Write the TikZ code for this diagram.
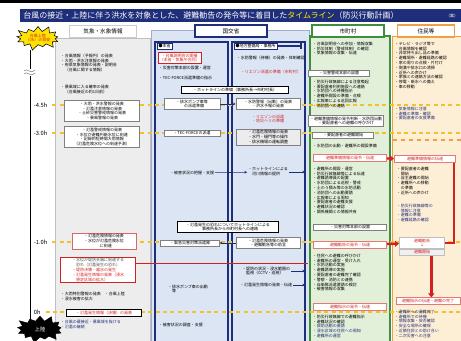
\documentclass[tikz,border=0pt]{standalone}
\usepackage{fontspec}
\setmainfont{Noto Sans CJK JP}
\usetikzlibrary{shapes.symbols,positioning,arrows.meta}

\definecolor{navy}{HTML}{1F2E7A}
\definecolor{bluebg}{HTML}{DCE5F4}
\definecolor{greenbg}{HTML}{E2EFD9}
\definecolor{greenln}{HTML}{3E8E3E}
\definecolor{orangebg}{HTML}{FDEFD6}
\definecolor{orangeln}{HTML}{F0A040}
\definecolor{graybg}{HTML}{EDEDED}
\definecolor{dashyel}{HTML}{F2C12E}
\definecolor{redln}{HTML}{D42020}

\tikzset{
  txt/.style={font=\fontsize{3}{3.6}\selectfont, inner sep=0.5pt, align=left},
  btxt/.style={txt, text=navy},
  rtxt/.style={txt, text=redln},
  tbox/.style={txt, draw=gray, fill=white, align=center, inner sep=1pt},
  rbox/.style={tbox, text=redln, draw=redln!60, line width=0.5pt},
  hdr/.style={draw, fill=white, line width=1pt, minimum width=54pt, minimum height=9pt, inner sep=0pt, font=\fontsize{4.2}{5}\selectfont},
  hour/.style={anchor=west, inner sep=0.5pt, font=\fontsize{4.3}{5}\selectfont},
  timeln/.style={dashyel, dash pattern=on 3pt off 2.5pt, line width=1pt},
  link/.style={navy, line width=0.4pt, -{Stealth[length=2pt,width=2pt]}},
  redbar/.style={redln, line width=1.8pt},
  redarr/.style={redbar, -{Triangle[length=3pt,width=4.5pt]}},
}

\begin{document}
\begin{tikzpicture}[x=0.75pt,y=-0.75pt]
    \useasboundingbox (0,0) rectangle (461,341);
    \clip (0,0) rectangle (461,341);

    % Title
    \fill[black] (0,0) rectangle (461,3);
    \fill[navy] (20,9) rectangle (461,22);
    \node[anchor=west, text=white, inner sep=0, font=\fontsize{6}{7}\selectfont] (title) at (23,15.5)
        {台風の接近・上陸に伴う洪水を対象とした、避難勧告の発令等に着目した\textcolor{yellow}{タイムライン}（防災行動計画）};
    \node[anchor=east, text=white, txt, align=center] (ver) at (459,15.5) {（案）};

    % Column backgrounds
    \draw[gray!50, fill=graybg] (55,38) rectangle (150,345);
    \draw[navy!40, fill=bluebg] (151,30) rectangle (309,345);
    \draw[navy, line width=1pt] (155,42) rectangle (228,345);
    \draw[navy, line width=1pt] (232,42) rectangle (305,345);
    \draw[greenln, line width=0.8pt, fill=greenbg] (310,36) rectangle (390,345);
    \draw[orangeln, line width=0.6pt, fill=orangebg] (392,36) rectangle (465,345);

    % Time axis
    \draw[line width=0.6pt] (30,50) -- (30,332);
    \fill[white] (24,69) rectangle (36,76);
    \draw[gray] (24,71) .. controls (27,67) and (30,75) .. (35,70);
    \draw[gray] (24,74) .. controls (27,70) and (30,78) .. (35,73);
    \foreach \y/\lab/\nm in {105/-4.5h/a, 133/-3.0h/b, 242/-1.0h/c, 312/0h/d} {
        \node[hour] (t\nm) at (33,\y) {\lab};
        \coordinate (e\nm) at (461,\y);
        \draw[timeln] (t\nm.east) ++(4,0) -- (e\nm);
    }
    \draw[orangeln, dashed, line width=0.8pt] (393,140) -- (461,140);

    % Headers
    \node[starburst, starburst points=13, starburst point height=5pt, fill=yellow!85!orange, draw=black,
          line width=0.4pt, minimum width=36pt, minimum height=20pt, inner sep=0pt, align=center,
          text=redln, font=\fontsize{3}{3.5}\selectfont] (sun) at (38,38) {台風上陸\\（0h）の目安};
    \node[hdr, draw=gray!40, line width=0.4pt, minimum width=50pt] (wx) at (103,31) {気象・水象情報};
    \node[hdr, draw=navy] (mlit) at (231,31) {国交省};
    \node[hdr, draw=greenln] (city) at (348,31) {市町村};
    \node[hdr, draw=orangeln, minimum width=43pt] (res) at (426,31) {住民等};

    % Weather info
    \node[txt, anchor=north west] (k1) at (60,53) {・台風情報（予報円）の発表\\・大雨・洪水注意報の発表\\・府県気象情報の発表・説明会\\　（台風に関する情報）};
    \node[txt, anchor=north west] (k2) at (60,84) {・暴風域に入る確率の発表\\　（台風接近の約1日前）};
    \node[tbox, minimum width=56pt] (k3) at (102,111) {・大雨・洪水警報の発表\\・氾濫注意情報の発表\\・土砂災害警戒情報の発表\\・暴風警報の発表};
    \node[tbox, minimum width=56pt] (k4) at (102,137) {・氾濫警戒情報の発表\\・水位が避難判断水位に到達\\・記録的短時間大雨情報\\（氾濫危険水位への到達予測）};
    \node[tbox, draw=redln!70, minimum width=48pt] (k5) at (104,241) {・氾濫危険情報の発表\\・水位が氾濫危険水位\\　に到達};
    \node[rbox, draw=redln, minimum width=56pt, align=left] (k6) at (98,270)
        {\textcolor{gray!60!black}{・水位が堤防天端に到達する}\\\textcolor{gray!60!black}{　恐れ（氾濫発生の恐れ）}\\・堤防決壊・越水の発生\\・氾濫発生情報の発表（浸水\\　想定区域の拡大）};
    \node[txt, anchor=north west] (k7) at (60,291) {・大雨特別警報の発表　・台風上陸\\・浸水被害の拡大};
    \node[tbox, draw=black, minimum width=56pt] (k8) at (104,313) {\textcolor{redln}{・氾濫発生情報（決壊）の発表}};
    \node[btxt, anchor=north west] (k9) at (60,319) {・台風の最接近・暴風域を抜ける\\・氾濫の継続};
    \node[starburst, starburst points=13, starburst point height=5pt, fill=black, draw=black,
          minimum width=38pt, minimum height=22pt, inner sep=0pt, text=white,
          font=\fontsize{4}{4}\selectfont] (land) at (40,329) {上陸};

    % MLIT
    \node[tbox, draw=navy, anchor=west] (hq) at (157,46) {●本省};
    \node[tbox, draw=navy, anchor=west] (reg) at (234,46) {●地方整備局・事務所};
    \coordinate (regt) at (301,46);
    \draw[navy, line width=0.8pt] (reg.east) -- (regt) ++(0,-3) -- ++(0,6);
    \node[rbox, draw=redln, anchor=north west] (h1) at (158,52) {・台風説明会の開催\\（本省・気象庁合同）};
    \node[txt, anchor=west] (h2) at (158,68) {・災害対策本部の設置・運営};
    \node[txt, anchor=west] (h3) at (158,78) {・TEC-FORCE派遣準備の指示};
    \node[txt, anchor=west] (r1) at (236,58) {・水防警報（待機）の発表・体制確認};
    \node[rtxt, anchor=west] (r2) at (240,72) {・リエゾン派遣の準備（市町村）};
    \node[tbox, draw=black, minimum width=80pt] (hl) at (235,90) {・ホットラインの準備（事務所長→市町村長）};
    \node[tbox, minimum width=42pt] (h4) at (192,104) {・排水ポンプ車等\\　の派遣準備};
    \node[tbox, minimum width=48pt] (r3) at (268,104) {・水防警報（出動）の発表\\・洪水予報の発表};
    \node[rtxt, align=center] (r4) at (268,119) {・リエゾンの派遣\\・防災ヘリの準備};
    \node[tbox, minimum width=42pt] (h5) at (192,133) {・TEC-FORCEの派遣};
    \node[tbox, fill=gray!15, minimum width=48pt] (r5) at (268,137) {・氾濫危険情報の発表\\・水門・樋門等の操作\\・排水機場の運転調整};
    \node[txt] (h6) at (192,173) {・被害状況の把握・支援};
    \node[txt] (r6) at (268,172) {・ホットラインによる\\　河川情報の提供};
    \node[tbox, draw=black, minimum width=76pt] (hl2) at (228,227) {・氾濫発生の恐れについてホットラインによる\\　事務所長から市町村長への連絡};
    \node[tbox, minimum width=44pt] (h7) at (190,243) {・緊急災害対策派遣隊};
    \node[tbox, minimum width=48pt] (r7) at (268,243) {・氾濫危険情報の発表\\・避難勧告等の助言};
    \node[txt] (r8) at (266,271) {・堤防の状況・浸水範囲の\\　監視（CCTV・巡視）};
    \node[txt] (h8) at (188,289) {・排水ポンプ車の出動\\　等};
    \node[txt] (r9) at (266,285) {・氾濫発生情報の発表・伝達};
    \node[txt, anchor=west] (h9) at (158,325) {・被害状況の調査・支援};
    \coordinate (bedge) at (305,0);
    \coordinate (redend) at (308,263);

    \draw[link] (h4) -- (r3);
    \draw[link] (h6) -- (r6);
    \draw[link] (r7) -- (h7);
    \draw[link] (r6.east) -- (r6.east -| bedge);
    \draw[link] (r8.east) -- (r8.east -| bedge);
    \draw[link] (r9.east) -- (r9.east -| bedge);
    \draw[redln, line width=0.5pt] (k6.east |- redend) -- (redend);

    % Municipality
    \node[txt, anchor=north west] (g1) at (312,41) {・台風説明会への参加・情報収集\\・防災体制（警戒体制）の確認\\・気象情報の収集・伝達};
    \node[tbox, minimum width=46pt] (g2) at (339,73) {・災害警戒本部の設置};
    \node[txt, anchor=north west] (g3) at (312,79) {・防災行政無線による注意喚起\\・要配慮者利用施設への連絡\\・水防団への待機指示\\・避難所開設の準備・点検\\・広報車による巡回広報\\・消防団への連絡};
    \node[tbox, minimum width=52pt] (g4) at (346,121) {・避難準備情報の発令判断・水防団出動\\・要配慮者への避難の呼びかけ};
    \node[tbox, minimum width=46pt] (g5) at (343,135) {・要配慮者の避難開始};
    \node[txt, anchor=west] (g6) at (312,146) {・水防団の出動・避難所の開設準備};
    \node[rbox, minimum width=55pt] (gr1) at (350,158) {避難準備情報の発令・伝達};
    \node[txt, anchor=north west] (g7) at (312,166) {・避難所の開設・運営\\・防災行政無線等による伝達\\・避難誘導員の配置\\・水防団による巡視・警戒\\・土のう積み等の水防活動\\・消防団への出動要請\\・広報車による周知\\・要配慮者の避難支援\\・避難状況の確認\\・関係機関との情報共有};
    \node[tbox, minimum width=55pt] (g8) at (350,227) {・災害対策本部の設置};
    \node[rbox, minimum width=55pt] (gr2) at (350,245) {避難勧告の発令・伝達};
    \node[txt, anchor=north west] (g9) at (312,253) {・住民への避難の呼びかけ\\・避難所の運営・受け入れ\\・水防活動の実施\\・避難誘導の実施\\・要配慮者の避難完了確認\\・警察・消防との連携\\・自衛隊派遣要請の検討\\・被害情報の収集};
    \node[rbox, minimum width=55pt] (gr3) at (350,307) {避難指示の発令・伝達};
    \node[txt, anchor=north west] (g10) at (312,314) {・防災行政無線での避難指示\\・避難状況の確認\\\textcolor{navy}{・救助活動の要請}\\\textcolor{navy}{・浸水区域の住民への周知}\\\textcolor{navy}{・避難所の運営}};

    % Residents
    \node[txt, anchor=north west] (o1) at (394,41) {・テレビ・ラジオ等で\\　台風情報を確認\\・非常持ち出し品の準備\\・避難場所・避難経路の確認\\・家の周りの点検・片付け\\・側溝や排水口の清掃\\・近所への声かけ\\・家族との連絡方法の確認\\・停電・断水への備え\\・車の移動};
    \node[btxt, anchor=north west] (o2) at (394,106) {・気象情報に注意\\・避難の準備・確認\\・要配慮者の支援準備};
    \node[rbox, minimum width=46pt] (ob1) at (425,159) {避難準備情報の伝達};
    \node[txt, anchor=north west] (o3) at (396,166) {・要配慮者の避難\\　開始\\・自主避難の開始\\・避難所への移動\\　の準備\\・近所への声かけ};
    \node[btxt, anchor=north west] (o4) at (396,203) {・防災行政無線等の\\　情報に注意\\・避難の準備\\・避難経路の確認};
    \node[rbox, draw=gray!50, minimum width=34pt] (ob2) at (422,243) {避難勧告\\↓};
    \node[rbox, draw=gray!50, fill=gray!12, minimum width=34pt, anchor=north] (ob3) at (ob2.south) {避難開始};
    \node[rbox, minimum width=48pt] (ob4) at (428,301) {避難指示の伝達・避難の完了};
    \node[btxt, anchor=north west] (o5) at (394,309) {・避難所への避難完了\\・避難所での待機\\・情報収集・安否確認\\・安全な場所の確保\\・近隣住民との助け合い\\・二次災害への注意};

    % Red links
    \draw[redarr] (gr1) -- (ob1);
    \draw[redarr] (gr2) -- (ob2);
    \draw[redbar] ([xshift=-1.5pt]ob1.south east) |- (ob2.east);
    \draw[redarr] ([xshift=7pt]ob3.south) -- ([xshift=7pt]ob3.south |- ob4.north);
\end{tikzpicture}
\end{document}
